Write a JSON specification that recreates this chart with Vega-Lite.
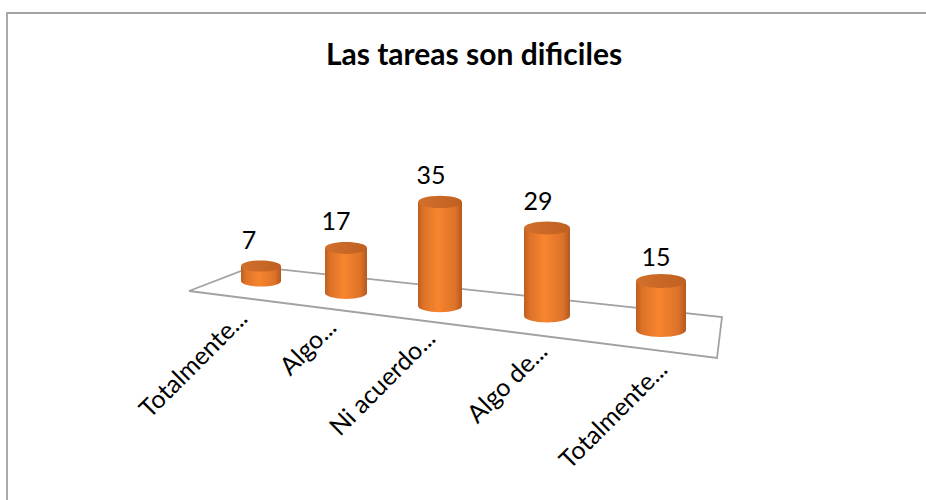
{
 "$schema":"https://vega.github.io/schema/vega-lite/v6.json",
 "width":926,"height":500,"padding":0,"autosize":{"type":"none"},
 "background":"white",
 "view":{"stroke":null},
 "title":{"text":"Las tareas son dificiles","font":"Lato","fontSize":30,"fontWeight":"bold","color":"#000000","anchor":"middle","frame":"group","offset":-71,"dx":11},
 "datasets":{
  "barras":[
   {"orden":1,"categoria":"Totalmente en desacuerdo","etiqueta":"Totalmente...","valor":7},
   {"orden":2,"categoria":"Algo en desacuerdo","etiqueta":"Algo...","valor":17},
   {"orden":3,"categoria":"Ni acuerdo ni desacuerdo","etiqueta":"Ni acuerdo...","valor":35},
   {"orden":4,"categoria":"Algo de acuerdo","etiqueta":"Algo de...","valor":29},
   {"orden":5,"categoria":"Totalmente de acuerdo","etiqueta":"Totalmente...","valor":15}
  ],
  "marco":[{"n":1},{"n":2},{"n":3}],
  "suelo":[{"n":1},{"n":2},{"n":3},{"n":4},{"n":5}]
 },
 "layer":[
  {"data":{"name":"marco"},
   "mark":{"type":"line","stroke":"#a2a2a2","strokeWidth":1.8,"interpolate":"linear"},
   "encoding":{
    "x":{"field":"n","type":"quantitative","axis":null,"scale":{"domain":[1,2,3],"range":[7,7,926],"zero":false,"nice":false}},
    "y":{"field":"n","type":"quantitative","axis":null,"scale":{"domain":[1,2,3],"range":[500,13,13],"zero":false,"nice":false}},
    "order":{"field":"n"}
   }},
  {"data":{"name":"suelo"},
   "mark":{"type":"line","stroke":"#a2a2a2","strokeWidth":1.8,"interpolate":"linear"},
   "encoding":{
    "x":{"field":"n","type":"quantitative","axis":null,"scale":{"domain":[1,2,3,4,5],"range":[189,253,722,717,189],"zero":false,"nice":false}},
    "y":{"field":"n","type":"quantitative","axis":null,"scale":{"domain":[1,2,3,4,5],"range":[291,266.5,317,358,291],"zero":false,"nice":false}},
    "order":{"field":"n"}
   }},
  {"data":{"name":"barras"},
   "mark":{"type":"point","filled":true,"opacity":1,"shape":"M-1,0A1,0.28,0,1,1,1,0A1,0.28,0,1,1,-1,0Z","fill":{"gradient":"linear","x1":0,"x2":1,"y1":0,"y2":0,"stops":[{"offset":0,"color":"#bd5e20"},{"offset":0.12,"color":"#dc7228"},{"offset":0.45,"color":"#f8852f"},{"offset":0.85,"color":"#dc7228"},{"offset":1,"color":"#b35820"}]}},
   "encoding":{
    "x":{"field":"orden","type":"quantitative","axis":null,"scale":{"domain":[1,2,3,4,5],"range":[261,346,440,547,661],"zero":false,"nice":false}},
    "y":{"field":"orden","type":"quantitative","axis":null,"scale":{"domain":[1,2,3,4,5],"range":[281,293,306,316,330],"zero":false,"nice":false}},
    "size":{"field":"orden","type":"quantitative","legend":null,"scale":{"domain":[1,2,3,4,5],"range":[1600,1764,1936,2116,2500],"zero":false,"nice":false}}
   }},
  {"data":{"name":"barras"},
   "mark":{"type":"rect","fill":{"gradient":"linear","x1":0,"x2":1,"y1":0,"y2":0,"stops":[{"offset":0,"color":"#bd5e20"},{"offset":0.12,"color":"#dc7228"},{"offset":0.45,"color":"#f8852f"},{"offset":0.85,"color":"#dc7228"},{"offset":1,"color":"#b35820"}]}},
   "encoding":{
    "x":{"field":"valor","type":"quantitative","axis":null,"scale":{"domain":[1,2,3,4,5,7,15,17,29,35],"range":[281,367,462,570,686,241,636,325,524,418],"zero":false,"nice":false}},
    "x2":{"field":"orden"},
    "y":{"field":"valor","type":"quantitative","axis":null,"scale":{"domain":[1,2,3,4,5,7,15,17,29,35],"range":[281,293,306,316,330,266,281,248,228,202],"zero":false,"nice":false}},
    "y2":{"field":"orden"}
   }},
  {"data":{"name":"barras"},
   "mark":{"type":"point","filled":true,"opacity":1,"shape":"M-1,0A1,0.28,0,1,1,1,0A1,0.28,0,1,1,-1,0Z","fill":{"gradient":"linear","x1":0,"x2":1,"y1":0,"y2":0,"stops":[{"offset":0,"color":"#d2702b"},{"offset":1,"color":"#bf6022"}]}},
   "encoding":{
    "x":{"field":"orden","type":"quantitative","axis":null,"scale":{"domain":[1,2,3,4,5],"range":[261,346,440,547,661],"zero":false,"nice":false}},
    "y":{"field":"valor","type":"quantitative","axis":null,"scale":{"domain":[7,15,17,29,35],"range":[266,281,248,228,202],"zero":false,"nice":false}},
    "size":{"field":"orden","type":"quantitative","legend":null,"scale":{"domain":[1,2,3,4,5],"range":[1600,1764,1936,2116,2500],"zero":false,"nice":false}}
   }},
  {"data":{"name":"barras"},
   "mark":{"type":"text","font":"Lato","fontSize":25,"color":"#000000","baseline":"middle"},
   "encoding":{
    "x":{"field":"orden","type":"quantitative","axis":null,"scale":{"domain":[1,2,3,4,5],"range":[249,336,431,538,656],"zero":false,"nice":false}},
    "y":{"field":"valor","type":"quantitative","axis":null,"scale":{"domain":[7,15,17,29,35],"range":[241,258,222,202,176],"zero":false,"nice":false}},
    "text":{"field":"valor","type":"quantitative"}
   }},
  {"data":{"name":"barras"},
   "mark":{"type":"text","font":"Lato","fontSize":25,"color":"#000000","angle":315,"align":"right","baseline":"alphabetic"},
   "encoding":{
    "x":{"field":"orden","type":"quantitative","axis":null,"scale":{"domain":[1,2,3,4,5],"range":[249,338,437,549,669],"zero":false,"nice":false}},
    "y":{"field":"orden","type":"quantitative","axis":null,"scale":{"domain":[1,2,3,4,5],"range":[320,329,340,353,371],"zero":false,"nice":false}},
    "text":{"field":"etiqueta"}
   }}
 ],
 "resolve":{"scale":{"x":"independent","y":"independent"}}
}
